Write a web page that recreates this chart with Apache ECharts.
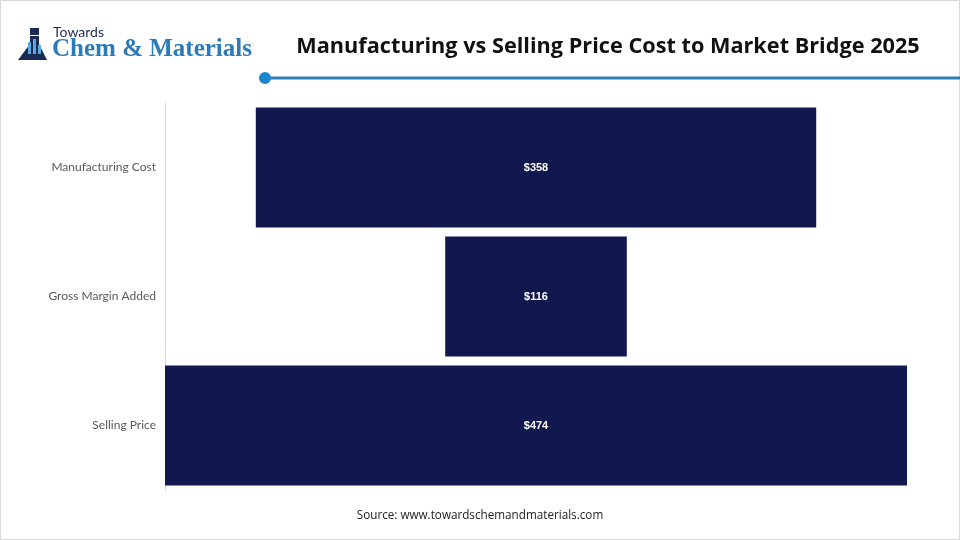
<!DOCTYPE html>
<html>
<head>
<meta charset="utf-8">
<script src="https://cdn.jsdelivr.net/npm/echarts@6/dist/echarts.min.js"></script>
<style>
  html, body { margin: 0; padding: 0; background: #fff; }
  #chart { width: 960px; height: 540px; }
</style>
</head>
<body>
<div id="chart"></div>
<script>
// cost to market bridge, values in USD
var categories = ['Manufacturing Cost', 'Gross Margin Added', 'Selling Price'];
var values = [358, 116, 474];
var axisMax = 474;

// invisible spacer so every bar sits centred
var spacer = [];
for (var i = 0; i < values.length; i++) {
    spacer.push((axisMax - values[i]) / 2);
}

var myChart = echarts.init(document.getElementById('chart'));
var option = {
    backgroundColor: '#fff',
    animation: false,
    title: {
        text: 'Manufacturing vs Selling Price Cost to Market Bridge 2025',
        left: 603,
        top: 31,
        textAlign: 'center',
        textStyle: {
            fontFamily: 'Open Sans',
            fontWeight: 'bold',
            fontSize: 21.7,
            color: '#111'
        }
    },
    graphic: [
        { type: 'rect', shape: { x: 0.5, y: 0.5, width: 959, height: 539 },
          style: { fill: 'none', stroke: '#d9d9d9', lineWidth: 1 } },
        // header rule
        { type: 'line', shape: { x1: 265, y1: 78, x2: 960, y2: 78 },
          style: { stroke: '#2e7fb3', lineWidth: 3 } },
        { type: 'circle', shape: { cx: 265, cy: 78, r: 6 },
          style: { fill: '#1a86d0' } },
        // logo
        { type: 'text', left: 53, top: 25,
          style: { text: 'Towards', fontFamily: 'Lato', fontSize: 14, fill: '#1b2a55' } },
        { type: 'text', left: 52, top: 37,
          style: { text: 'Chem & Materials', fontFamily: 'Liberation Serif', fontWeight: 'bold',
                   fontSize: 25, fill: '#2b7bb9' } },
        { type: 'rect', shape: { x: 30, y: 28, width: 9, height: 7 }, style: { fill: '#1b2a55' } },
        { type: 'polygon', shape: { points: [[30, 36], [39, 36], [39, 44], [47, 60], [18, 60], [30, 44]] },
          style: { fill: '#1b2a55' } },
        { type: 'rect', shape: { x: 28, y: 42, width: 3, height: 12 }, style: { fill: '#5aa9e0' } },
        { type: 'rect', shape: { x: 33, y: 39, width: 3, height: 15 }, style: { fill: '#5aa9e0' } },
        { type: 'rect', shape: { x: 38, y: 45, width: 3, height: 9 }, style: { fill: '#5aa9e0' } },
        // source
        { type: 'text', left: 'center', top: 510,
          style: { text: 'Source: www.towardschemandmaterials.com', fontFamily: 'Open Sans',
                   fontSize: 11.7, fill: '#222' } }
    ],
    grid: {
        left: 165,
        right: 53,
        top: 103,
        bottom: 50
    },
    xAxis: {
        type: 'value',
        min: 0,
        max: axisMax,
        show: false
    },
    yAxis: {
        type: 'category',
        inverse: true,
        data: categories,
        axisLine: { show: true, lineStyle: { color: '#d9d9d9' } },
        axisTick: { show: false },
        axisLabel: {
            color: '#595959',
            fontSize: 12,
            fontFamily: 'Lato',
            margin: 9
        }
    },
    series: [
        {
            name: 'spacer',
            type: 'bar',
            stack: 'bridge',
            data: spacer,
            itemStyle: { color: 'transparent' },
            barCategoryGap: '7%',
            silent: true
        },
        {
            name: 'value',
            type: 'bar',
            stack: 'bridge',
            data: values,
            barCategoryGap: '7%',
            itemStyle: { color: '#10184e' },
            label: {
                show: true,
                position: 'inside',
                color: '#fff',
                fontWeight: 'bold',
                fontSize: 11,
                fontFamily: 'Liberation Sans',
                formatter: function (p) { return '$' + p.value; }
            }
        }
    ]
};
myChart.setOption(option);
</script>
</body>
</html>
